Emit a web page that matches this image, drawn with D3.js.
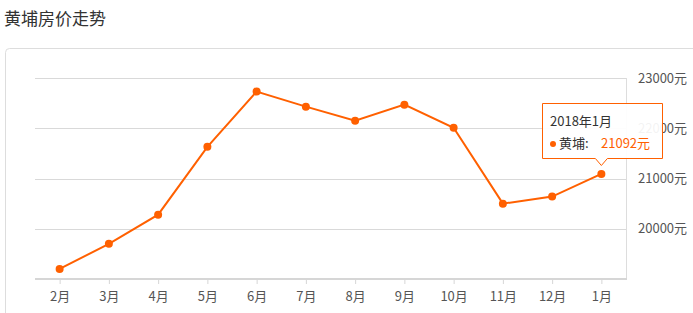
<!DOCTYPE html>
<html>
<head>
<meta charset="utf-8">
<script src="https://cdn.jsdelivr.net/npm/d3@7"></script>
<style>
  body { margin: 0; background: #fff; font-family: "Noto Sans CJK SC", "Noto Sans", sans-serif; }
</style>
</head>
<body>
<svg id="chart" width="693" height="313"></svg>
<script>
// data
var months = ["2月", "3月", "4月", "5月", "6月", "7月", "8月", "9月", "10月", "11月", "12月", "1月"];
var prices = [19200, 19700, 20280, 21630, 22730, 22430, 22150, 22470, 22010, 20500, 20640, 21092];
var yTicks = [20000, 21000, 22000, 23000];
var tipTitle = "2018年1月";
var tipName = "黄埔";

var svg = d3.select("#chart");
var orange = "#ff6000";

// title
svg.append("text")
    .attr("x", 4).attr("y", 25)
    .style("font-size", "17px").style("fill", "#333")
    .text("黄埔房价走势");

// panel
svg.append("rect")
    .attr("x", 5.5).attr("y", 48.5)
    .attr("width", 720).attr("height", 300)
    .attr("rx", 4)
    .style("fill", "none").style("stroke", "#ddd");

var margin = {left: 35, right: 626, top: 78, bottom: 279};

var x = d3.scalePoint()
    .domain(months)
    .range([margin.left, margin.right])
    .padding(0.5);

var y = d3.scaleLinear()
    .domain([19000, 23000])
    .range([margin.bottom, margin.top]);

// gridlines
svg.append("g").selectAll("line")
    .data(yTicks)
    .enter().append("line")
    .attr("x1", margin.left).attr("x2", margin.right)
    .attr("y1", function(d) { return Math.round(y(d)) + 0.5; })
    .attr("y2", function(d) { return Math.round(y(d)) + 0.5; })
    .style("stroke", "#d9d9d9");

// right edge line
svg.append("line")
    .attr("x1", margin.right + 0.5).attr("x2", margin.right + 0.5)
    .attr("y1", margin.top).attr("y2", margin.bottom)
    .style("stroke", "#ddd");

// y labels
svg.append("g").selectAll("text")
    .data(yTicks)
    .enter().append("text")
    .attr("x", 638)
    .attr("y", function(d) { return y(d) + 4.5; })
    .style("font-size", "13px").style("fill", "#555")
    .text(function(d) { return d + "元"; });

// x axis
var xAxis = svg.append("g")
    .attr("transform", "translate(0," + margin.bottom + ")")
    .call(d3.axisBottom(x).tickSize(5).tickSizeOuter(0).tickPadding(8));
xAxis.select(".domain")
    .attr("d", "M" + margin.left + ",0H" + (margin.right + 1))
    .style("stroke", "#d6d6d6").style("stroke-width", 2);
xAxis.selectAll(".tick line").style("stroke", "#d6d6d6");
xAxis.selectAll(".tick text")
    .style("font-size", "13px").style("fill", "#555")
    .style("font-family", "\"Noto Sans CJK SC\", sans-serif");

// line
var line = d3.line()
    .x(function(d, i) { return x(months[i]); })
    .y(function(d) { return y(d); });

svg.append("path")
    .datum(prices)
    .attr("d", line)
    .style("fill", "none").style("stroke", orange).style("stroke-width", 2);

svg.append("g").selectAll("circle")
    .data(prices)
    .enter().append("circle")
    .attr("cx", function(d, i) { return x(months[i]); })
    .attr("cy", function(d) { return y(d); })
    .attr("r", 4)
    .style("fill", orange);

// tooltip on last point
var last = prices.length - 1;
var px = x(months[last]), py = y(prices[last]);
var tip = svg.append("g");
var bx = 542.5, by = 103.5, bw = 120, bh = 55;
tip.append("path")
    .attr("d", "M" + bx + "," + by + "h" + bw + "v" + bh +
        "H" + (px + 6) + "l-6,7l-6,-7H" + bx + "Z")
    .style("fill", "rgba(255,255,255,0.93)")
    .style("stroke", orange);
tip.append("text")
    .attr("x", 550).attr("y", 126)
    .style("font-size", "13px").style("fill", "#333")
    .text(tipTitle);
tip.append("circle")
    .attr("cx", 553).attr("cy", 144).attr("r", 3)
    .style("fill", orange);
tip.append("text")
    .attr("x", 559).attr("y", 148)
    .style("font-size", "13px").style("fill", "#333")
    .text(tipName + ":");
tip.append("text")
    .attr("x", 601).attr("y", 148)
    .style("font-size", "13px").style("fill", orange)
    .text(prices[last] + "元");
</script>
</body>
</html>
